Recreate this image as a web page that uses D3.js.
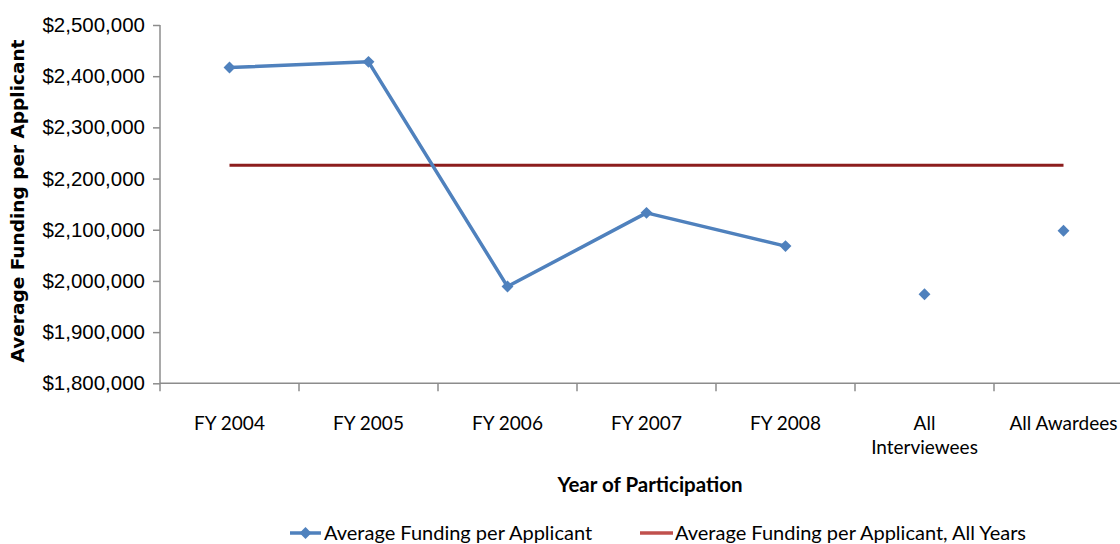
<!DOCTYPE html>
<html>
<head>
<meta charset="utf-8">
<script src="https://cdn.jsdelivr.net/npm/d3@7"></script>
<style>
  body { margin: 0; background: #fff; }
  svg { display: block; font-family: Lato, 'Open Sans', sans-serif; }
</style>
</head>
<body>
<svg width="1120" height="544"></svg>
<script>
// data
var categories = ['FY 2004', 'FY 2005', 'FY 2006', 'FY 2007', 'FY 2008', 'All Interviewees', 'All Awardees']
var funding = [2417000, 2428000, 1989000, 2133000, 2068000, 1974000, 2098000]
var lineCount = 5 // only the fiscal years are joined by the line
var allYearsAvg = 2226000
var yTicks = [1800000, 1900000, 2000000, 2100000, 2200000, 2300000, 2400000, 2500000]

var blue = '#4f81bd', red = '#8c1d1d', axisColor = '#8c8c8c'

var svg = d3.select('svg'),
  margin = {top: 25, left: 160},
  width = 139 * categories.length,
  height = 358.3

var x = d3.scaleBand().domain(categories).range([0, width]),
  y = d3.scaleLinear().domain([1800000, 2500000]).range([height, 0])

var g = svg.append('g')
    .attr('transform', 'translate(' + margin.left + ',' + margin.top + ')')

// y axis
var yAxis = d3.axisLeft(y).tickValues(yTicks).tickSize(7).tickPadding(8)
    .tickFormat(function (d) { return '$' + d3.format(',')(d) })
var ya = g.append('g').call(yAxis)
ya.select('.domain').remove()
ya.append('line').attr('y1', 0).attr('y2', height).attr('stroke', axisColor).attr('stroke-width', 1.5)
ya.selectAll('.tick line').attr('stroke', axisColor).attr('stroke-width', 1.5)
ya.selectAll('.tick text').attr('fill', '#000').style('font-size', '20.5px')

// x axis, ticks on band boundaries
var xa = g.append('g').attr('transform', 'translate(0,' + height + ')')
xa.append('line').attr('x1', 0).attr('x2', width).attr('stroke', axisColor).attr('stroke-width', 1.5)
xa.selectAll('.xtick').data(d3.range(categories.length + 1)).enter().append('line')
    .attr('x1', function (i) { return i * x.step() })
    .attr('x2', function (i) { return i * x.step() })
    .attr('y1', 0).attr('y2', 8)
    .attr('stroke', axisColor).attr('stroke-width', 1.5)

var labelLines = {'All Interviewees': ['All', 'Interviewees']}
xa.selectAll('.xlabel').data(categories).enter().append('text')
    .attr('text-anchor', 'middle')
    .style('font-size', '19px')
    .attr('transform', function (d) { return 'translate(' + (x(d) + x.bandwidth() / 2) + ',47)' })
    .each(function (d) {
      var lines = labelLines[d] || [d]
      var t = d3.select(this)
      lines.forEach(function (s, i) {
        t.append('tspan').attr('x', 0).attr('dy', i ? 24 : 0).text(s)
      })
    })

// axis titles
svg.append('text')
    .attr('transform', 'translate(24,201) rotate(-90)')
    .attr('text-anchor', 'middle')
    .style('font-family', "'DejaVu Sans', Verdana, sans-serif")
    .style('font-size', '18.5px').style('font-weight', 'bold')
    .text('Average Funding per Applicant')

svg.append('text')
    .attr('x', 650).attr('y', 492)
    .attr('text-anchor', 'middle')
    .style('font-size', '20.5px').style('font-weight', 'bold')
    .text('Year of Participation')

var cx = function (d) { return x(d) + x.bandwidth() / 2 }

// all-years average line
g.append('line')
    .attr('x1', cx(categories[0])).attr('x2', cx(categories[categories.length - 1]))
    .attr('y1', y(allYearsAvg)).attr('y2', y(allYearsAvg))
    .attr('stroke', red).attr('stroke-width', 3)

// funding line
var line = d3.line()
    .x(function (d, i) { return cx(categories[i]) })
    .y(function (d) { return y(d) })

g.append('path')
    .datum(funding.slice(0, lineCount))
    .attr('fill', 'none')
    .attr('stroke', blue)
    .attr('stroke-width', 3.5)
    .attr('stroke-linejoin', 'round')
    .attr('d', line)

var diamond = d3.symbol().type(d3.symbolDiamond2).size(90)
g.selectAll('.pt').data(funding).enter().append('path')
    .attr('d', diamond)
    .attr('fill', blue)
    .attr('transform', function (d, i) { return 'translate(' + cx(categories[i]) + ',' + y(d) + ')' })

// legend
var leg = svg.append('g').attr('transform', 'translate(0,533)')
leg.append('line').attr('x1', 290).attr('x2', 321).attr('y1', 0).attr('y2', 0)
    .attr('stroke', blue).attr('stroke-width', 3.5)
leg.append('path').attr('d', diamond).attr('fill', blue).attr('transform', 'translate(305.5,0)')
leg.append('text').attr('x', 324).attr('y', 7).style('font-size', '20px')
    .text('Average Funding per Applicant')
leg.append('line').attr('x1', 640).attr('x2', 673).attr('y1', 0).attr('y2', 0)
    .attr('stroke', '#c0504d').attr('stroke-width', 3.5)
leg.append('text').attr('x', 675).attr('y', 7).style('font-size', '20px')
    .text('Average Funding per Applicant, All Years')
</script>
</body>
</html>
